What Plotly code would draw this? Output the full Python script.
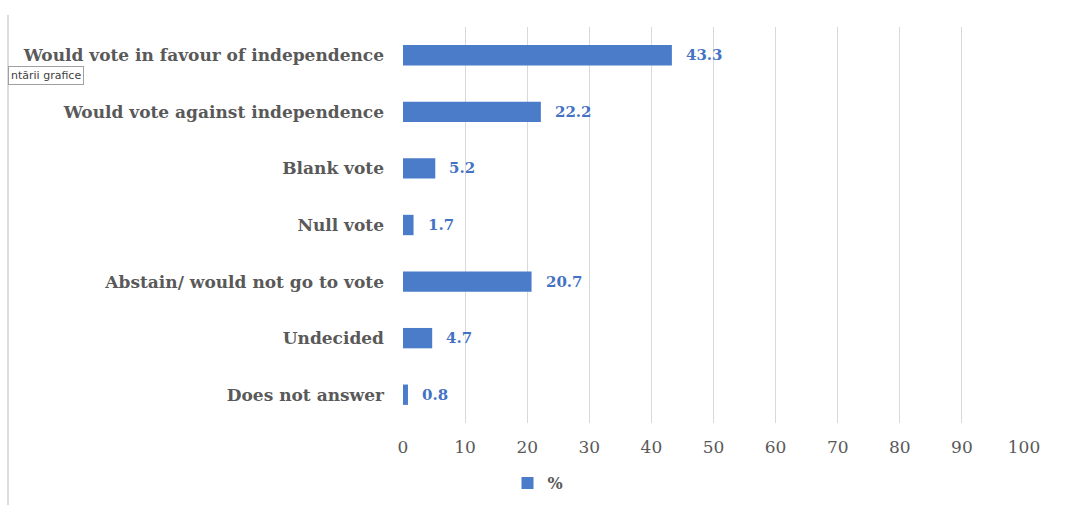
import plotly.graph_objects as go

categories = ["Would vote in favour of independence", "Would vote against independence",
              "Blank vote", "Null vote", "Abstain/ would not go to vote", "Undecided", "Does not answer"]
values = [43.3, 22.2, 5.2, 1.7, 20.7, 4.7, 0.8]
x_ticks = [0, 10, 20, 30, 40, 50, 60, 70, 80, 90, 100]

W, H = 1067, 505
L, R, T, B = 403, 43, 27, 82
pw, ph = W - L - R, H - T - B

FONT = "DejaVu Serif"

def px_x(p):
    return (p - L) / pw

def px_y(p):
    return (H - B - p) / ph

fig = go.Figure()
fig.add_trace(go.Bar(
    y=categories, x=values, orientation="h", name="<b>%</b>",
    marker=dict(color="#4a7cc9", line=dict(width=0)), width=0.36,
))

for c, v in zip(categories, values):
    fig.add_annotation(x=v, y=c, xref="x", yref="y", text=f"<b>{v}</b>", showarrow=False,
                       xanchor="left", xshift=12,
                       font=dict(family=FONT, size=15, color="#4472C4"))

# partial tooltip at left
fig.add_annotation(xref="paper", yref="paper", x=px_x(8), y=px_y(75), xanchor="left", yanchor="middle",
                   text="ntării grafice", showarrow=False, bgcolor="white", bordercolor="#a0a0a0",
                   borderwidth=1, borderpad=2, font=dict(family="DejaVu Sans", size=11, color="#404040"))

fig.add_shape(type="line", xref="paper", yref="paper", x0=px_x(8), x1=px_x(8), y0=px_y(15), y1=px_y(505),
              line=dict(color="#d0d0d0", width=1.5))

fig.update_layout(
    width=W, height=H, margin=dict(l=L, r=R, t=T, b=B, autoexpand=False),
    paper_bgcolor="white", plot_bgcolor="white",
    showlegend=True, bargap=0.6,
    legend=dict(orientation="h", x=px_x(538), xanchor="center", y=px_y(483), yanchor="middle",
                font=dict(family=FONT, size=16, color="#595959"), itemwidth=30),
    xaxis=dict(range=[0, 100], tickvals=x_ticks, showgrid=True, gridcolor="#d9d9d9", gridwidth=1,
               zeroline=False, showline=False, ticks="", ticklabelstandoff=12,
               tickfont=dict(family=FONT, size=17, color="#595959")),
    yaxis=dict(autorange="reversed", showgrid=False, showline=False, ticks="", ticklabelstandoff=18,
               tickvals=categories, ticktext=[f"<b>{c}</b>" for c in categories],
               tickfont=dict(family=FONT, size=17, color="#595959")),
)
fig.write_html("out.html")
